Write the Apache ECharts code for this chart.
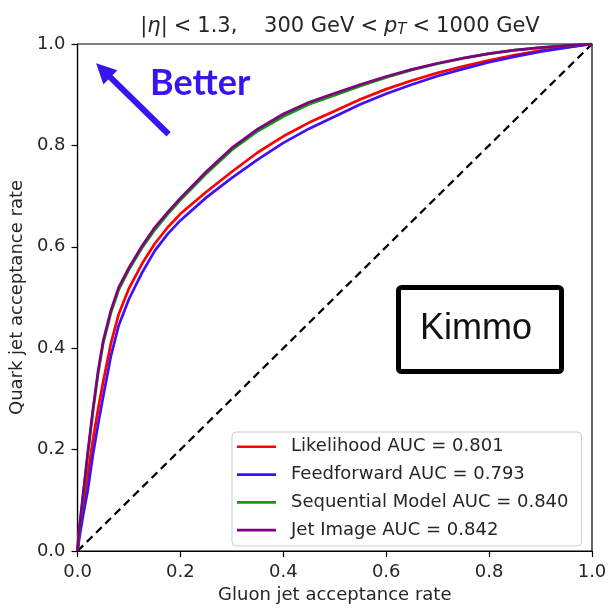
<!DOCTYPE html>
<html>
<head>
<meta charset="utf-8">
<script src="https://cdn.jsdelivr.net/npm/echarts@6/dist/echarts.min.js"></script>
<style>
  html, body { margin: 0; padding: 0; background: #fff; }
  #chart { width: 610px; height: 609px; }
</style>
</head>
<body>
<div id="chart"></div>
<script>
// ROC 曲线数据
const fpr = [0, 0.002, 0.005, 0.01, 0.015, 0.02, 0.03, 0.04, 0.05, 0.065, 0.08, 0.1, 0.125, 0.15, 0.175, 0.2,
  0.25, 0.3, 0.35, 0.4, 0.45, 0.5, 0.55, 0.6, 0.65, 0.7, 0.75, 0.8, 0.85, 0.9, 0.95, 1.0];
const likelihood = [0, 0.02, 0.045, 0.08, 0.115, 0.15, 0.22, 0.28, 0.335, 0.41, 0.467, 0.518, 0.566, 0.606, 0.638, 0.665,
  0.708, 0.748, 0.786, 0.818, 0.845, 0.868, 0.891, 0.911, 0.928, 0.943, 0.956, 0.968, 0.978, 0.987, 0.994, 1];
const feedforward = [0, 0.015, 0.035, 0.065, 0.093, 0.12, 0.19, 0.25, 0.305, 0.385, 0.445, 0.497, 0.548, 0.592, 0.625, 0.652,
  0.697, 0.736, 0.772, 0.805, 0.833, 0.857, 0.881, 0.902, 0.92, 0.937, 0.951, 0.964, 0.975, 0.985, 0.993, 1];
const sequential = [0, 0.028, 0.056, 0.1, 0.145, 0.19, 0.275, 0.35, 0.41, 0.47, 0.515, 0.555, 0.597, 0.633, 0.664, 0.692,
  0.744, 0.791, 0.828, 0.857, 0.881, 0.899, 0.917, 0.934, 0.949, 0.961, 0.972, 0.981, 0.988, 0.993, 0.997, 1];
const jetImage = [0, 0.03, 0.06, 0.105, 0.15, 0.195, 0.28, 0.355, 0.415, 0.475, 0.52, 0.559, 0.601, 0.638, 0.668, 0.696,
  0.748, 0.795, 0.832, 0.862, 0.885, 0.903, 0.92, 0.936, 0.95, 0.962, 0.972, 0.981, 0.988, 0.993, 0.997, 1];
const seriesNames = ['Likelihood AUC = 0.801', 'Feedforward AUC = 0.793', 'Sequential Model AUC = 0.840', 'Jet Image AUC = 0.842'];
const seriesColors = ['#ff0000', '#4010f5', '#119a11', '#800080'];
const diagonal = [[0, 0], [1, 1]];
const arrowFrom = [0.177, 0.822];
const arrowTo = [0.05, 0.948];

const FONT = 'DejaVu Sans';
const TXT = '#262626';
const toPairs = (ys) => fpr.map((x, i) => [x, ys[i]]);

const chart = echarts.init(document.getElementById('chart'));

function curve(name, ys, color) {
  return {
    name: name,
    type: 'line',
    data: toPairs(ys),
    symbol: 'none',
    lineStyle: { color: color, width: 2.7, join: 'round' },
    itemStyle: { color: color },
    z: 3
  };
}

const axisCommon = {
  type: 'value',
  min: 0,
  max: 1,
  interval: 0.2,
  splitLine: { show: false },
  axisLine: { show: true, lineStyle: { color: '#000', width: 1.2 } },
  axisTick: { show: true, length: 6, lineStyle: { color: '#000', width: 1.2 } },
  axisLabel: {
    fontFamily: FONT,
    fontSize: 18,
    color: TXT,
    formatter: (v) => v.toFixed(1)
  },
  nameLocation: 'middle',
  nameTextStyle: { fontFamily: FONT, fontSize: 18, color: TXT }
};

const option = {
  animation: false,
  backgroundColor: '#fff',
  title: {
    text: '|{i|η}|{r|<}1.3,{g| }300 GeV{r|<}{i|p}{sub|T}{r|<}1000 GeV',
    left: 335,
    textAlign: 'center',
    top: 10,
    textStyle: {
      fontFamily: FONT,
      fontSize: 21,
      fontWeight: 'normal',
      color: TXT,
      rich: {
        i: { fontFamily: FONT, fontSize: 21, fontStyle: 'italic', color: TXT },
        r: { fontFamily: FONT, fontSize: 21, color: TXT, padding: [0, 6, 0, 6] },
        g: { fontFamily: FONT, fontSize: 21, color: TXT, padding: [0, 10, 0, 10] },
        sub: { fontFamily: FONT, fontSize: 15, fontStyle: 'italic', color: TXT, verticalAlign: 'bottom', padding: [8, 0, 0, 0] }
      }
    }
  },
  grid: {
    left: 77,
    right: 18,
    top: 44,
    bottom: 55,
    show: true,
    borderColor: '#000',
    borderWidth: 1.2
  },
  legend: {
    orient: 'vertical',
    left: 232,
    top: 432,
    data: seriesNames,
    icon: 'rect',
    itemWidth: 39,
    itemHeight: 2.7,
    itemGap: 8.3,
    padding: [5, 13, 6, 5],
    backgroundColor: 'rgba(255,255,255,0.8)',
    borderColor: '#cccccc',
    borderWidth: 1,
    borderRadius: 4,
    textStyle: {
      fontFamily: FONT,
      fontSize: 18,
      color: TXT,
      lineHeight: 19.5,
      padding: [0, 0, 0, 10]
    }
  },
  xAxis: Object.assign({}, axisCommon, {
    name: 'Gluon jet acceptance rate',
    nameGap: 35,
    axisLabel: Object.assign({}, axisCommon.axisLabel, { margin: 12 })
  }),
  yAxis: Object.assign({}, axisCommon, {
    name: 'Quark jet acceptance rate',
    nameGap: 46,
    axisLabel: Object.assign({}, axisCommon.axisLabel, { margin: 12 })
  }),
  series: [
    {
      name: 'diagonal',
      type: 'line',
      data: diagonal,
      symbol: 'none',
      silent: true,
      lineStyle: { color: '#000', width: 2.2, type: [8, 5] },
      z: 2,
      markLine: {
        silent: true,
        symbol: ['none', 'triangle'],
        symbolSize: [20, 20],
        label: { show: false },
        lineStyle: { color: '#3a14f0', width: 6, type: 'solid' },
        data: [[{ coord: arrowFrom }, { coord: arrowTo }]]
      }
    },
    curve(seriesNames[0], likelihood, seriesColors[0]),
    curve(seriesNames[1], feedforward, seriesColors[1]),
    curve(seriesNames[2], sequential, seriesColors[2]),
    curve(seriesNames[3], jetImage, seriesColors[3])
  ],
  graphic: [
    {
      type: 'text',
      left: 150,
      top: 65,
      style: {
        text: 'Better',
        fontFamily: 'Lato',
        fontWeight: 'bold',
        fontSize: 36,
        fill: '#3a14f0'
      }
    },
    {
      type: 'rect',
      left: 396,
      top: 285,
      shape: { width: 163, height: 84, r: 3 },
      style: { fill: '#fff', stroke: '#000', lineWidth: 5 },
      z: 10
    },
    {
      type: 'text',
      left: 420,
      top: 311,
      style: {
        text: 'Kimmo',
        fontFamily: 'Liberation Sans',
        fontSize: 36,
        fill: '#111'
      },
      z: 11
    }
  ]
};

chart.setOption(option);
</script>
</body>
</html>
